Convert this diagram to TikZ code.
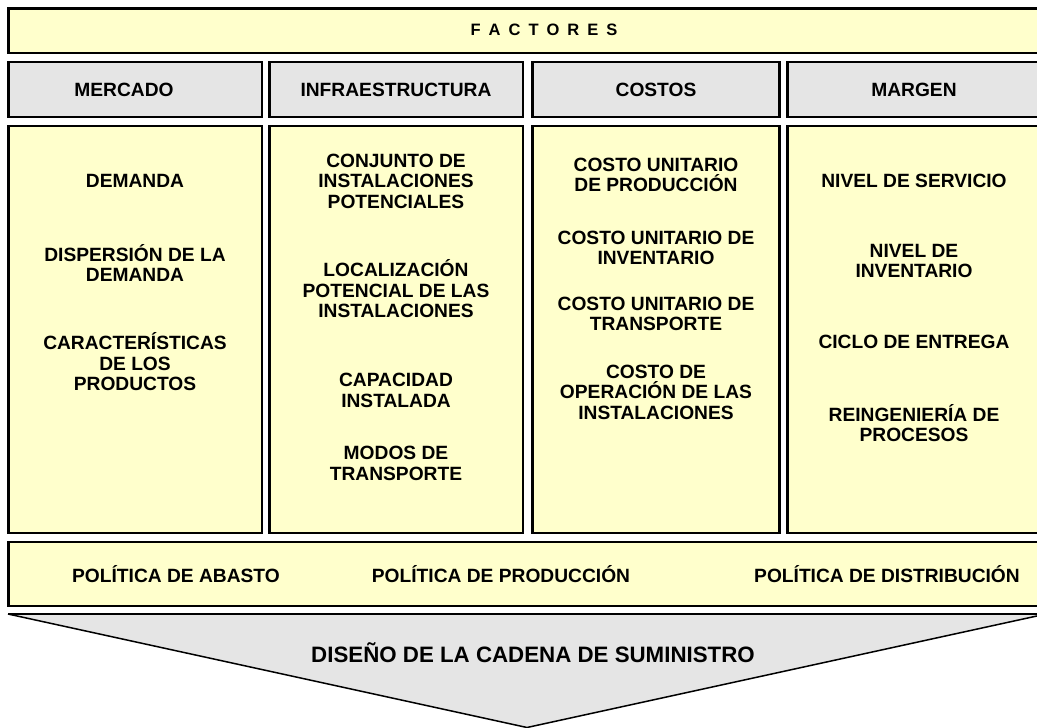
\documentclass[tikz,border=0pt]{standalone}
\usepackage{fontspec}
\setmainfont{Liberation Sans}
\definecolor{boxyellow}{HTML}{FFFFCC}
\definecolor{boxgray}{HTML}{E5E5E5}
\begin{document}
\begin{tikzpicture}[x=1pt,y=-1pt,
  panel/.style={draw=black,line width=2.5pt},
  yel/.style={panel,fill=boxyellow},
  gry/.style={panel,fill=boxgray},
  lbl/.style={font=\bfseries\fontsize{19.2}{20.5}\selectfont,align=center,inner sep=0pt,text=black},
  ]
\useasboundingbox (0,0) rectangle (1037,728);
% boxes
\draw[yel] (8.5,8.5) rectangle (1042,53);
\draw[gry] (8.5,62) rectangle (262,117);
\draw[gry] (269.5,62) rectangle (523,117);
\draw[gry] (532.5,62) rectangle (779.5,117);
\draw[gry] (787.5,62) rectangle (1042,117);
\draw[yel] (8.5,126) rectangle (262,533);
\draw[yel] (269.5,126) rectangle (523,533);
\draw[yel] (532.5,126) rectangle (779.5,533);
\draw[yel] (787.5,126) rectangle (1042,533);
\draw[yel] (8.5,542) rectangle (1042,606);
% arrow
\coordinate (aL) at (8,614);
\coordinate (aR) at (1046,614);
\coordinate (aT) at (527,727.5);
\fill[boxgray] (aL) -- (aR) -- (aT) -- cycle;
\draw[line width=1.5pt] (aL) -- (aT) -- (aR);
\draw[line width=2pt] (aL) -- (aR);
% title
\node[lbl,font=\bfseries\fontsize{16.5}{18}\selectfont] (fac) at (544,30)
  {F\kern8pt A\kern8pt C\kern8pt T\kern8pt O\kern8pt R\kern8pt E\kern8pt S};
% headers
\node[lbl] (h1) at (124,90) {MERCADO};
\node[lbl] (h2) at (396,90) {INFRAESTRUCTURA};
\node[lbl] (h3) at (656,90) {COSTOS};
\node[lbl] (h4) at (914,90) {MARGEN};
% mercado
\node[lbl] (m1) at (135,181) {DEMANDA};
\node[lbl] (m2) at (135,263) {DISPERSIÓN DE LA\\DEMANDA};
\node[lbl] (m3) at (135,362) {CARACTERÍSTICAS\\DE LOS\\PRODUCTOS};
% infraestructura
\node[lbl] (i1) at (396,181) {CONJUNTO DE\\INSTALACIONES\\POTENCIALES};
\node[lbl] (i2) at (396,289) {LOCALIZACIÓN\\POTENCIAL DE LAS\\INSTALACIONES};
\node[lbl] (i3) at (396,390.5) {CAPACIDAD\\INSTALADA};
\node[lbl] (i4) at (396,463.5) {MODOS DE\\TRANSPORTE};
% costos
\node[lbl] (c1) at (656,175) {COSTO UNITARIO\\DE PRODUCCIÓN};
\node[lbl] (c2) at (656,248) {COSTO UNITARIO DE\\INVENTARIO};
\node[lbl] (c3) at (656,314) {COSTO UNITARIO DE\\TRANSPORTE};
\node[lbl] (c4) at (656,392) {COSTO DE\\OPERACIÓN DE LAS\\INSTALACIONES};
% margen
\node[lbl] (g1) at (914,181) {NIVEL DE SERVICIO};
\node[lbl] (g2) at (914,261) {NIVEL DE\\INVENTARIO};
\node[lbl] (g3) at (914,342) {CICLO DE ENTREGA};
\node[lbl] (g4) at (914,423) {REINGENIERÍA DE\\PROCESOS};
% policies
\node[lbl] (p1) at (176,574) {POLÍTICA DE ABASTO};
\node[lbl] (p2) at (501,574) {POLÍTICA DE PRODUCCIÓN};
\node[lbl] (p3) at (887,574) {POLÍTICA DE DISTRIBUCIÓN};
% arrow text
\node[lbl,font=\bfseries\fontsize{22.3}{24}\selectfont] (d) at (533,653) {DISEÑO DE LA CADENA DE SUMINISTRO};
\end{tikzpicture}
\end{document}
